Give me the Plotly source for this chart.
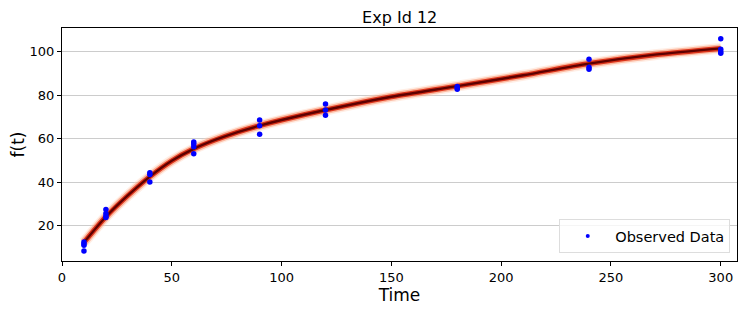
import plotly.graph_objects as go

# Observed data
obs_t = [10, 10, 10, 10, 20, 20, 20, 20, 40, 40, 40, 60, 60, 60, 60,
         90, 90, 90, 120, 120, 120, 180, 180, 180, 240, 240, 240,
         300, 300, 300, 300]
obs_y = [12.4, 11.6, 10.9, 8.2, 27.3, 25.5, 24.2, 23.6, 44.3, 43.5, 40.0,
         58.4, 57.5, 56.3, 53.0, 68.6, 66.0, 62.0, 76.0, 73.2, 70.8,
         84.0, 83.3, 82.8, 96.6, 92.9, 92.0, 106.1, 101.2, 100.1, 99.4]

# Fitted curve (posterior band centre)
fit_t = [10, 20, 30, 40, 50, 60, 70, 80, 90, 100, 120, 150, 180, 210, 240, 270, 300]
fit_y = [12.2, 24.0, 33.8, 42.5, 49.8, 55.3, 59.5, 63.0, 66.0, 68.6, 73.2,
         79.3, 84.2, 89.2, 94.6, 98.7, 101.6]

fig = go.Figure()

band_layers = [
    (11, "rgba(255,205,180,0.35)"),
    (8, "rgba(250,130,90,0.5)"),
    (5, "rgba(215,35,10,0.9)"),
    (2.4, "rgb(95,0,0)"),
]
for w, c in band_layers:
    fig.add_trace(go.Scatter(x=fit_t, y=fit_y, mode="lines",
                             line=dict(color=c, width=w, shape="spline", smoothing=0.8),
                             showlegend=False, hoverinfo="skip"))

fig.add_trace(go.Scatter(x=obs_t, y=obs_y, mode="markers", showlegend=False,
                         marker=dict(color="blue", size=5.5)))
fig.add_trace(go.Scatter(x=[None], y=[None], mode="markers", name="Observed Data",
                         marker=dict(color="blue", size=4)))

fig.update_layout(
    width=739, height=304,
    margin=dict(l=54, r=10, t=20, b=51, autoexpand=False),
    paper_bgcolor="white", plot_bgcolor="white",
    font=dict(family="DejaVu Sans", color="black", size=13),
    title=dict(text="Exp Id 12", x=0.53, xanchor="center", y=0.97, yanchor="middle",
               font=dict(size=16), automargin=False),
    xaxis=dict(range=[0, 307.4], tickvals=[0, 50, 100, 150, 200, 250, 300],
               showgrid=False, zeroline=False, showline=True, linecolor="black", linewidth=1,
               mirror=True, ticks="outside", ticklen=4, tickcolor="black", automargin=False,
               title=dict(text="Time", font=dict(size=17), standoff=4)),
    yaxis=dict(range=[3.6, 111], tickvals=[20, 40, 60, 80, 100],
               showgrid=True, gridcolor="#cccccc", gridwidth=1, zeroline=False,
               showline=True, linecolor="black", linewidth=1, mirror=True,
               ticks="outside", ticklen=4, tickcolor="black", automargin=False,
               title=dict(text="f(t)", font=dict(size=17), standoff=2)),
    legend=dict(x=0.99, y=0.034, xanchor="right", yanchor="bottom",
                bgcolor="rgba(255,255,255,0.8)", bordercolor="#dddddd", borderwidth=1,
                font=dict(size=14.5), itemwidth=45),
)

fig.write_html("out.html")
